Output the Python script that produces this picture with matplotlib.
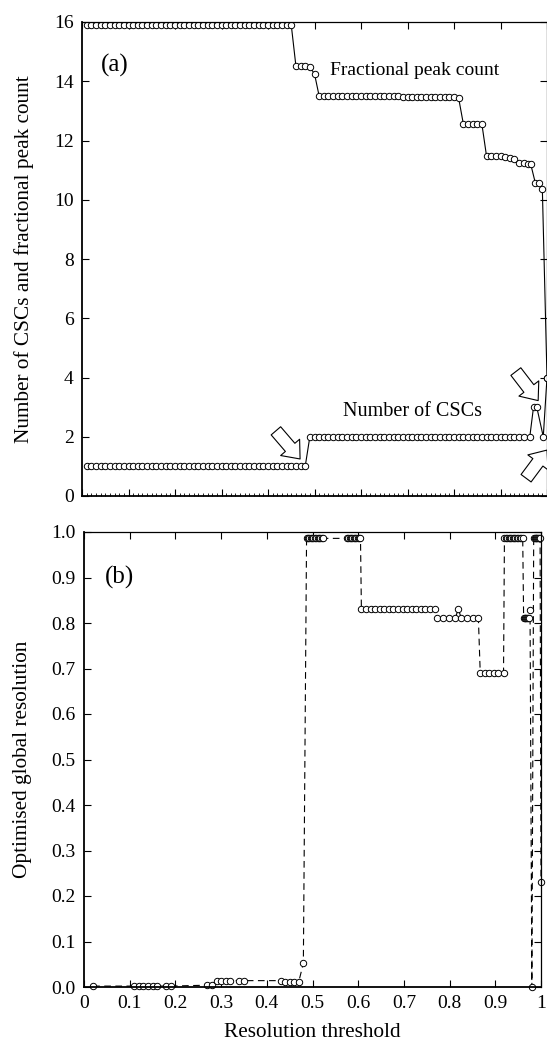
import matplotlib
matplotlib.use("Agg")
import matplotlib.pyplot as plt

plt.rcParams['font.family'] = ['Liberation Serif', 'DejaVu Serif']
plt.rcParams['font.size'] = 14

# ---- panel (a) data ----
frac_x = [0.01, 0.02, 0.03, 0.04, 0.05, 0.06, 0.07, 0.08, 0.09, 0.10,
          0.11, 0.12, 0.13, 0.14, 0.15, 0.16, 0.17, 0.18, 0.19, 0.20,
          0.21, 0.22, 0.23, 0.24, 0.25, 0.26, 0.27, 0.28, 0.29, 0.30,
          0.31, 0.32, 0.33, 0.34, 0.35, 0.36, 0.37, 0.38, 0.39, 0.40,
          0.41, 0.42, 0.43, 0.44, 0.45,
          0.46, 0.47, 0.48, 0.49, 0.50,
          0.51, 0.52, 0.53, 0.54, 0.55, 0.56, 0.57, 0.58, 0.59, 0.60,
          0.61, 0.62, 0.63, 0.64, 0.65, 0.66, 0.67, 0.68,
          0.69, 0.70, 0.71, 0.72, 0.73, 0.74, 0.75, 0.76, 0.77, 0.78,
          0.79, 0.80, 0.81,
          0.82, 0.83, 0.84, 0.85, 0.86,
          0.87, 0.88, 0.89, 0.90, 0.91, 0.92, 0.93,
          0.94, 0.95, 0.96, 0.965,
          0.975, 0.982, 0.99, 1.00]
frac_y = [15.9] * 45 + \
         [14.52, 14.52, 14.5, 14.48, 14.25] + \
         [13.5] * 18 + \
         [13.47] * 12 + [13.43] + \
         [12.57, 12.57, 12.57, 12.57, 12.55] + \
         [11.47, 11.47, 11.47, 11.47, 11.45, 11.42, 11.38] + \
         [11.23, 11.23, 11.22, 11.2] + \
         [10.56, 10.56, 10.35, 4.0]

csc_x = [0.01, 0.02, 0.03, 0.04, 0.05, 0.06, 0.07, 0.08, 0.09, 0.10,
         0.11, 0.12, 0.13, 0.14, 0.15, 0.16, 0.17, 0.18, 0.19, 0.20,
         0.21, 0.22, 0.23, 0.24, 0.25, 0.26, 0.27, 0.28, 0.29, 0.30,
         0.31, 0.32, 0.33, 0.34, 0.35, 0.36, 0.37, 0.38, 0.39, 0.40,
         0.41, 0.42, 0.43, 0.44, 0.45, 0.46, 0.47, 0.48,
         0.49, 0.50, 0.51, 0.52, 0.53, 0.54, 0.55, 0.56, 0.57, 0.58,
         0.59, 0.60, 0.61, 0.62, 0.63, 0.64, 0.65, 0.66, 0.67, 0.68,
         0.69, 0.70, 0.71, 0.72, 0.73, 0.74, 0.75, 0.76, 0.77, 0.78,
         0.79, 0.80, 0.81, 0.82, 0.83, 0.84, 0.85, 0.86, 0.87, 0.88,
         0.89, 0.90, 0.91, 0.92, 0.93, 0.94, 0.95, 0.963,
         0.971, 0.978, 0.992, 1.00]
csc_y = [1] * 48 + [2] * 48 + [3, 3, 2, 4]

# ---- panel (b) data ----
res_x = [0.02, 0.11, 0.12, 0.13, 0.14, 0.15, 0.16, 0.18, 0.19,
         0.27, 0.28, 0.29, 0.30, 0.31, 0.32, 0.34, 0.35,
         0.43, 0.44, 0.45, 0.46, 0.47, 0.48,
         0.487, 0.490, 0.493, 0.496, 0.499, 0.502, 0.505, 0.508,
         0.511, 0.514, 0.517, 0.520, 0.524,
         0.575, 0.578, 0.581, 0.584, 0.587, 0.590, 0.593, 0.596,
         0.599, 0.602, 0.605,
         0.607, 0.617, 0.627, 0.637, 0.647, 0.657, 0.667, 0.677, 0.687,
         0.697, 0.707, 0.717, 0.727, 0.737, 0.747, 0.757, 0.767,
         0.773, 0.786, 0.799, 0.812, 0.819,
         0.826, 0.838, 0.851, 0.863,
         0.867, 0.877, 0.887, 0.897, 0.907, 0.918,
         0.920, 0.923, 0.926, 0.929, 0.932, 0.935, 0.938, 0.941, 0.944,
         0.947, 0.950, 0.953, 0.956, 0.960,
         0.962, 0.964, 0.966, 0.968, 0.970, 0.972, 0.974, 0.976, 0.980,
         0.984, 0.986, 0.988, 0.990, 0.992, 0.994, 0.996, 0.998, 1.00]
res_y = [0.002] * 9 + \
         [0.004, 0.004, 0.014, 0.014, 0.014, 0.014, 0.014, 0.014] + \
         [0.014, 0.011, 0.011, 0.011, 0.012, 0.052] + \
         [0.986] * 13 + [0.986] * 11 + \
         [0.83] * 17 + \
         [0.81, 0.81, 0.81, 0.81, 0.83] + [0.81] * 4 + \
         [0.691] * 6 + \
         [0.986] * 14 + \
         [0.81, 0.81, 0.81, 0.81, 0.81, 0.81, 0.81, 0.828, 0.0] + \
         [0.986] * 8 + [0.231]

fig = plt.figure(figsize=(5.47, 10.48), dpi=100)
W, H = 547.0, 1048.0
ax1 = fig.add_axes([82 / W, 1 - 496 / H, 465 / W, 474 / H])
ax2 = fig.add_axes([84 / W, 1 - 987 / H, 457 / W, 455 / H])

mk = dict(marker='o', markersize=4.6, markerfacecolor='white',
          markeredgecolor='black', markeredgewidth=0.7, color='black')

ax1.plot(frac_x, frac_y, '-', lw=0.8, **mk)
ax1.plot(csc_x, csc_y, '-', lw=0.8, **mk)
ax1.set_xlim(0, 1)
ax1.set_ylim(0, 16)
ax1.set_yticks(range(0, 17, 2))
ax1.set_xticks([i / 10 for i in range(11)])
ax1.set_xticks([i / 100 for i in range(101)], minor=True)
ax1.set_xticklabels([])
ax1.set_ylabel('Number of CSCs and fractional peak count', fontsize=15.3, labelpad=14)
ax1.text(0.04, 14.55, '(a)', fontsize=18, va='center')
ax1.text(0.533, 14.37, 'Fractional peak count', fontsize=14, va='center')
ax1.text(0.561, 2.85, 'Number of CSCs', fontsize=14.5, va='center')

for (tx, ty, hx, hy) in [(0.417, 2.2, 0.469, 1.25),
                         (0.933, 4.2, 0.981, 3.22),
                         (0.955, 0.6, 1.0, 1.55)]:
    ax1.annotate('', xy=(hx, hy), xytext=(tx, ty),
                 arrowprops=dict(arrowstyle='simple,head_length=0.55,head_width=0.9,tail_width=0.45',
                                 mutation_scale=20, fc='white', ec='black', lw=0.8,
                                 shrinkA=0, shrinkB=0),
                 annotation_clip=False)

ax2.plot(res_x, res_y, linestyle=(0, (6, 4)), lw=0.8, clip_on=False, **mk)
ax2.set_xlim(0, 1)
ax2.set_ylim(0, 1)
ax2.set_xticks([i / 10 for i in range(11)])
ax2.set_xticklabels(['0', '0.1', '0.2', '0.3', '0.4', '0.5', '0.6', '0.7', '0.8', '0.9', '1'])
ax2.set_yticks([i / 10 for i in range(11)])
ax2.set_yticklabels(['%.1f' % (i / 10) for i in range(11)])
ax2.set_xlabel('Resolution threshold', fontsize=15.3, labelpad=8)
ax2.set_ylabel('Optimised global resolution', fontsize=15.3, labelpad=14)
ax2.text(0.045, 0.9, '(b)', fontsize=18, va='center')

for ax in (ax1, ax2):
    ax.tick_params(direction='in', which='major', length=5, width=0.8,
                   top=True, right=True, labelsize=14, pad=6)
    ax.tick_params(direction='in', which='minor', length=2, width=0.6,
                   top=False, right=False)
    ax.spines['left'].set_linewidth(1.3)
    ax.spines['bottom'].set_linewidth(1.3)
    ax.spines['top'].set_linewidth(0.9)
    ax.spines['right'].set_linewidth(0.9)

fig.savefig('out.png', dpi=100)
